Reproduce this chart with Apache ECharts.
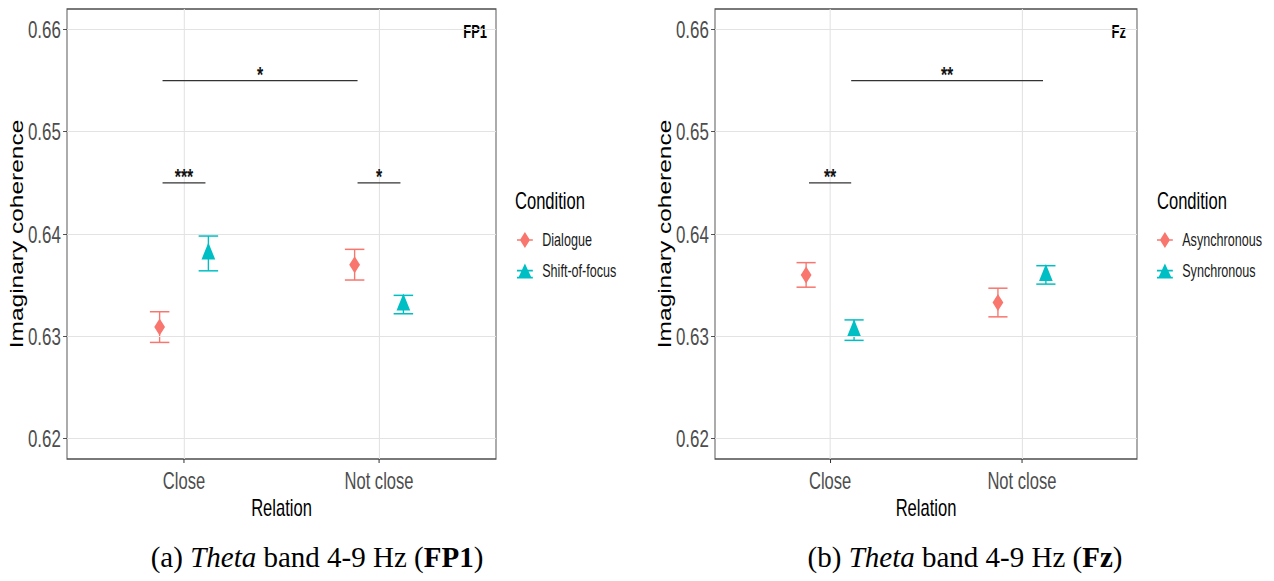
<!DOCTYPE html>
<html>
<head>
<meta charset="utf-8">
<script src="https://cdn.jsdelivr.net/npm/echarts@6/dist/echarts.min.js"></script>
<style>
  html, body { margin: 0; padding: 0; background: #fff; overflow: hidden; }
  /* the figure is laid out wide and then condensed horizontally */
  #chart { width: 1770px; height: 581px; transform: scaleX(0.72); transform-origin: 0 0; }
</style>
</head>
<body>
<div id="chart"></div>
<script>
// Relation categories and axis ticks
const relation = ['Close', 'Not close'];
const yTicks = [0.62, 0.63, 0.64, 0.65, 0.66];
const yMinorTicks = [0.625, 0.635, 0.645, 0.655];

// Panel (a): FP1, mean imaginary coherence and error half-widths per relation
const fp1DialogueMean = [0.6309, 0.6370];
const fp1DialogueErr = [0.0015, 0.0015];
const fp1ShiftMean = [0.6381, 0.6331];
const fp1ShiftErr = [0.0017, 0.0009];
// significance brackets (x in relation units)
const fp1SigFrom = [0.89, 0.89, 1.89];
const fp1SigTo = [1.89, 1.11, 2.11];
const fp1SigY = [0.655, 0.645, 0.645];
const fp1SigText = ['*', '***', '*'];

// Panel (b): Fz
const fzAsyncMean = [0.6360, 0.6333];
const fzAsyncErr = [0.0012, 0.0014];
const fzSyncMean = [0.6306, 0.6360];
const fzSyncErr = [0.0010, 0.0009];
const fzSigFrom = [1.11, 0.89];
const fzSigTo = [2.11, 1.11];
const fzSigY = [0.655, 0.645];
const fzSigText = ['**', '**'];

const S = 0.72;                 // horizontal condensing of the whole figure
const px = v => v / S;          // screen x -> layout x
const RED = '#F8766D';
const TEAL = '#00BFC4';
const SANS = "'Liberation Sans', Arial, sans-serif";
const SERIF = "'Liberation Serif', 'Times New Roman', serif";
const DODGE = 0.125;
const CAP = 0.05;

const DIAMOND_KEY = 'path://M11,0 L18,8 L11,16 L4,8 Z M0,7.2 L22,7.2 L22,8.8 L0,8.8 Z';
const TRIANGLE_KEY = 'path://M11,1 L20,15 L2,15 Z M0,7.2 L22,7.2 L22,8.8 L0,8.8 Z M0,14.2 L22,14.2 L22,15.8 L0,15.8 Z';

function errorBars(k, means, errs, offset, color) {
  return {
    type: 'custom', xAxisIndex: k, yAxisIndex: k, silent: true, z: 3,
    itemStyle: { color: color },
    data: means.map((m, i) => [i + 1 + offset, m - errs[i], m + errs[i]]),
    renderItem(params, api) {
      const x = api.value(0);
      const lo = api.coord([x, api.value(1)]);
      const hi = api.coord([x, api.value(2)]);
      const l = api.coord([x - CAP, api.value(1)])[0];
      const r = api.coord([x + CAP, api.value(1)])[0];
      const style = { stroke: color, lineWidth: 1.5, fill: null };
      return {
        type: 'group', children: [
          { type: 'line', shape: { x1: lo[0], y1: lo[1], x2: hi[0], y2: hi[1] }, style: { stroke: color, lineWidth: 1.9 } },
          { type: 'line', shape: { x1: l, y1: lo[1], x2: r, y2: lo[1] }, style: style },
          { type: 'line', shape: { x1: l, y1: hi[1], x2: r, y2: hi[1] }, style: style }
        ]
      };
    }
  };
}

function points(k, name, means, offset, color, symbol, size, shift) {
  return {
    type: 'scatter', name: name, xAxisIndex: k, yAxisIndex: k, z: 4, silent: true,
    symbol: symbol, symbolSize: size, symbolOffset: [0, shift],
    itemStyle: { color: color, opacity: 1 },
    data: means.map((m, i) => [i + 1 + offset, m])
  };
}

function brackets(k, from, to, ys, texts) {
  return {
    type: 'custom', xAxisIndex: k, yAxisIndex: k, silent: true, z: 5,
    data: from.map((f, i) => [f, to[i], ys[i]]),
    renderItem(params, api) {
      const a = api.coord([api.value(0), api.value(2)]);
      const b = api.coord([api.value(1), api.value(2)]);
      return {
        type: 'group', children: [
          { type: 'line', shape: { x1: a[0], y1: a[1], x2: b[0], y2: b[1] },
            style: { stroke: '#333', lineWidth: 1.4 } },
          { type: 'text', x: (a[0] + b[0]) / 2, y: a[1] + 5,
            style: { text: texts[params.dataIndex], fill: '#111',
              font: 'bold 22px ' + SANS, align: 'center', verticalAlign: 'bottom' } }
        ]
      };
    }
  };
}

function gridLines(k) {
  const major = { color: '#e3e3e3', width: 1.2, type: 'solid' };
  const minor = { color: '#efefef', width: 1, type: 'solid' };
  return {
    type: 'line', xAxisIndex: k, yAxisIndex: k, data: [], z: 1, silent: true,
    markLine: {
      silent: true, symbol: ['none', 'none'], animation: false,
      label: { show: false },
      data: [
        ...yMinorTicks.map(v => ({ yAxis: v, lineStyle: minor })),
        ...yTicks.map(v => ({ yAxis: v, lineStyle: major })),
        ...relation.map((c, i) => ({ xAxis: i + 1, lineStyle: { color: '#e3e3e3', width: 1.5, type: 'solid' } }))
      ]
    }
  };
}

function xAxis(k) {
  return {
    type: 'value', gridIndex: k, min: 0.4, max: 2.6,
    name: 'Relation', nameLocation: 'middle', nameGap: 37, nameMoveOverlap: false,
    nameTextStyle: { fontFamily: SANS, fontSize: 23, color: '#000' },
    axisLine: { show: false },
    axisTick: { show: true, length: 4, customValues: [1, 2], lineStyle: { color: '#333', width: 1.4 } },
    axisLabel: { customValues: [1, 2], margin: 10, fontFamily: SANS, fontSize: 23,
      color: '#4d4d4d', formatter: v => relation[Math.round(v) - 1] },
    splitLine: { show: false }
  };
}

function yAxis(k) {
  return {
    type: 'value', gridIndex: k, min: 0.618, max: 0.662,
    name: 'Imaginary coherence', nameLocation: 'middle', nameRotate: 90, nameGap: 56,
    nameMoveOverlap: false,
    nameTextStyle: { fontFamily: SANS, fontSize: 24.5, color: '#000' },
    axisLine: { show: false },
    axisTick: { show: true, length: 5.5, customValues: yTicks, lineStyle: { color: '#333', width: 1 } },
    axisLabel: { customValues: yTicks, margin: 8.5, fontFamily: SANS, fontSize: 23.5,
      color: '#4d4d4d', formatter: v => v.toFixed(2) },
    splitLine: { show: false }
  };
}

function legend(left, names) {
  return {
    orient: 'vertical', left: left, top: 231, padding: 0,
    itemWidth: 22, itemHeight: 16, itemGap: 13, selectedMode: false,
    data: [{ name: names[0], icon: DIAMOND_KEY }, { name: names[1], icon: TRIANGLE_KEY }],
    textStyle: { fontFamily: SANS, fontSize: 17.5, color: '#1a1a1a', padding: [0, 0, 0, 8] }
  };
}

const gridStyle = { show: true, borderColor: '#4d4d4d', borderWidth: 1.3,
  backgroundColor: '#fff', outerBoundsMode: 'none', containLabel: false };

function caption(x, tag, site) {
  return {
    type: 'text', x: px(x), y: 557, scaleX: 1 / S,
    style: {
      text: '{n|(' + tag + ') }{i|Theta}{n| band 4-9 Hz (}{b|' + site + '}{n|)}',
      align: 'center', verticalAlign: 'middle',
      rich: {
        n: { fontFamily: SERIF, fontSize: 29, fill: '#000' },
        i: { fontFamily: SERIF, fontSize: 29, fontStyle: 'italic', fill: '#000' },
        b: { fontFamily: SERIF, fontSize: 29, fontWeight: 'bold', fill: '#000' }
      }
    }
  };
}

const option = {
  animation: false,
  grid: [
    Object.assign({ left: px(67), top: 9, width: px(496) - px(67), height: 450 }, gridStyle),
    Object.assign({ left: px(715), top: 9, width: px(1137) - px(715), height: 450 }, gridStyle)
  ],
  xAxis: [xAxis(0), xAxis(1)],
  yAxis: [yAxis(0), yAxis(1)],
  legend: [legend(px(517), ['Dialogue', 'Shift-of-focus']), legend(px(1157), ['Asynchronous', 'Synchronous'])],
  series: [
    gridLines(0),
    errorBars(0, fp1DialogueMean, fp1DialogueErr, -DODGE, RED),
    errorBars(0, fp1ShiftMean, fp1ShiftErr, DODGE, TEAL),
    points(0, 'Dialogue', fp1DialogueMean, -DODGE, RED, 'diamond', [15, 17], 0),
    points(0, 'Shift-of-focus', fp1ShiftMean, DODGE, TEAL, 'triangle', [19, 17], -2.5),
    brackets(0, fp1SigFrom, fp1SigTo, fp1SigY, fp1SigText),

    gridLines(1),
    errorBars(1, fzAsyncMean, fzAsyncErr, -DODGE, RED),
    errorBars(1, fzSyncMean, fzSyncErr, DODGE, TEAL),
    points(1, 'Asynchronous', fzAsyncMean, -DODGE, RED, 'diamond', [15, 17], 0),
    points(1, 'Synchronous', fzSyncMean, DODGE, TEAL, 'triangle', [19, 17], -2.5),
    brackets(1, fzSigFrom, fzSigTo, fzSigY, fzSigText)
  ],
  graphic: [
    { type: 'text', x: px(515), y: 201, style: { text: 'Condition', font: '23px ' + SANS,
      fill: '#000', align: 'left', verticalAlign: 'middle' } },
    { type: 'text', x: px(1157), y: 201, style: { text: 'Condition', font: '23px ' + SANS,
      fill: '#000', align: 'left', verticalAlign: 'middle' } },
    { type: 'text', x: px(487), y: 32, style: { text: 'FP1', font: 'bold 18px ' + SANS,
      fill: '#000', align: 'right', verticalAlign: 'middle' } },
    { type: 'text', x: px(1126), y: 32, style: { text: 'Fz', font: 'bold 18px ' + SANS,
      fill: '#000', align: 'right', verticalAlign: 'middle' } },
    caption(317, 'a', 'FP1'),
    caption(965, 'b', 'Fz')
  ]
};

const chart = echarts.init(document.getElementById('chart'), null, { renderer: 'svg' });
chart.setOption(option);
</script>
</body>
</html>
